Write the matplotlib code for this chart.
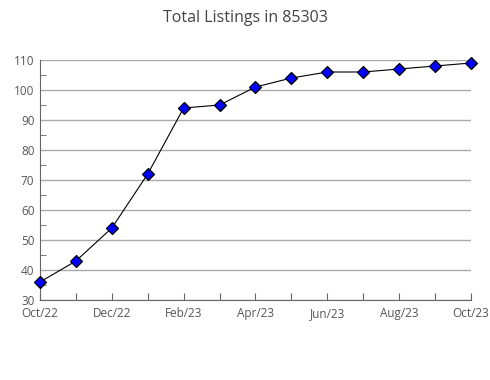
import matplotlib
matplotlib.use("Agg")
import matplotlib.pyplot as plt
from matplotlib.ticker import MultipleLocator

months = ["Oct/22", "Nov/22", "Dec/22", "Jan/23", "Feb/23", "Mar/23", "Apr/23",
          "May/23", "Jun/23", "Jul/23", "Aug/23", "Sep/23", "Oct/23"]
listings = [36, 43, 54, 72, 94, 95, 101, 104, 106, 106, 107, 108, 109]

plt.rcParams['font.family'] = ['Open Sans', 'DejaVu Sans']

fig = plt.figure(figsize=(4.9, 3.8), dpi=100)
ax = fig.add_axes([0.0816, 0.2105, 0.8796, 0.6316])

x = list(range(len(months)))
ax.plot(x, listings, "-", color="black", lw=0.8, zorder=3)
ax.plot(x, listings, "D", color="#0000ff", markeredgecolor="black",
        markeredgewidth=0.9, markersize=6, zorder=4, clip_on=False)

ax.set_xlim(0, len(months) - 1)
ax.set_ylim(30, 110)
ax.set_xticks(x)
ax.set_xticklabels([m if i % 2 == 0 else "" for i, m in enumerate(months)])
ax.yaxis.set_major_locator(MultipleLocator(10))
ax.yaxis.set_minor_locator(MultipleLocator(5))

ax.grid(axis="y", color="#aaaaaa", lw=1)
ax.set_axisbelow(True)
for s in ["top", "right"]:
    ax.spines[s].set_visible(False)
for s in ["left", "bottom"]:
    ax.spines[s].set_color("#666666")

ax.tick_params(axis="x", direction="in", length=5, color="#666666",
               labelsize=8.5, labelcolor="#555555", pad=5)
ax.tick_params(axis="y", which="major", length=0, labelsize=8.5,
               labelcolor="#555555", pad=4)
ax.tick_params(axis="y", which="minor", direction="in", length=4, color="#666666")
# nudge the y labels up a little so "30" clears "Oct/22"
for lbl in ax.get_yticklabels():
    lbl.set_verticalalignment("center_baseline")

fig.suptitle("Total Listings in 85303", y=0.975, fontsize=11.5, color="#444444")

fig.savefig("out.png")
